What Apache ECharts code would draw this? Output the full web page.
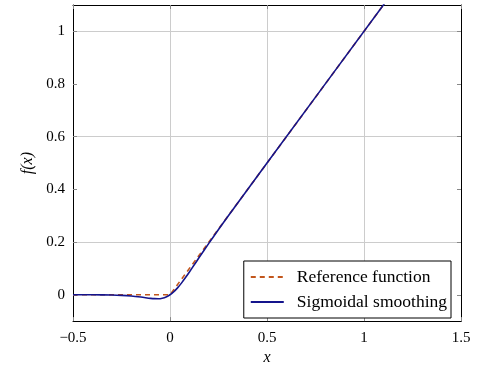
<!DOCTYPE html>
<html>
<head>
<meta charset="utf-8">
<script src="https://cdn.jsdelivr.net/npm/echarts@6/dist/echarts.min.js"></script>
<style>
  html, body { margin: 0; padding: 0; background: #fff; }
  #chart { width: 479px; height: 371px; }
</style>
</head>
<body>
<div id="chart"></div>
<script>
// values
const refX = [-0.5, 0, 1.15];
const refY = [0, 0, 1.15];

const smoothX = [-0.5, -0.4, -0.3, -0.25, -0.2, -0.15, -0.1, -0.08, -0.06, -0.04, -0.02, 0,
  0.02, 0.04, 0.06, 0.08, 0.1, 0.125, 0.15, 0.2, 0.25, 0.3, 0.4, 0.5, 1.15];
const smoothY = [0, -0.0002, -0.0012, -0.0024, -0.0048, -0.0088, -0.0136, -0.0148, -0.0149, -0.0129, -0.0082, 0,
  0.0118, 0.0271, 0.0451, 0.0652, 0.0864, 0.1137, 0.1412, 0.1952, 0.2476, 0.2988, 0.3998, 0.5, 1.15];

const xTicks = [-0.5, 0, 0.5, 1, 1.5];
const yTicks = [0, 0.2, 0.4, 0.6, 0.8, 1];

const FONT = "'Liberation Serif', 'DejaVu Serif', serif";
const GRID = "#cccccc";

const zip = (a, b) => a.map((v, i) => [v, b[i]]);
const fmt = (v) => String(+v.toFixed(2)).replace("-", "\u2212");

const chart = echarts.init(document.getElementById("chart"), null, { renderer: "canvas" });

const tickStyle = { show: true, inside: true, length: 4, lineStyle: { color: "#888" } };

chart.setOption({
  animation: false,
  backgroundColor: "#fff",
  grid: { left: 73, right: 18, top: 5, bottom: 44, containLabel: false },
  legend: {
    orient: "vertical",
    right: 28,
    bottom: 53,
    backgroundColor: "#fff",
    borderColor: "#000",
    borderWidth: 1,
    borderRadius: 0,
    padding: [7, 4, 7, 6],
    itemGap: 7,
    itemWidth: 33,
    itemHeight: 16,
    itemStyle: { opacity: 0 },
    textStyle: { fontFamily: FONT, fontSize: 17.5, color: "#000", padding: [0, 0, 0, 8] },
    data: ["Reference function", "Sigmoidal smoothing"]
  },
  xAxis: [
    {
      type: "value",
      min: -0.5,
      max: 1.5,
      interval: 0.5,
      name: "x",
      nameLocation: "middle",
      nameGap: 28,
      nameTextStyle: { fontFamily: FONT, fontSize: 16, fontStyle: "italic", color: "#000" },
      axisLine: { show: true, onZero: false, lineStyle: { color: "#000", width: 1 } },
      axisTick: tickStyle,
      axisLabel: { fontFamily: FONT, fontSize: 15, color: "#000", margin: 9, formatter: fmt },
      splitLine: { show: true, lineStyle: { color: GRID, width: 1 } }
    },
    {
      type: "value",
      position: "top",
      min: -0.5,
      max: 1.5,
      interval: 0.5,
      axisLine: { show: true, onZero: false, lineStyle: { color: "#000", width: 1 } },
      axisTick: tickStyle,
      axisLabel: { show: false },
      splitLine: { show: false }
    }
  ],
  yAxis: [
    {
      type: "value",
      min: -0.1,
      max: 1.1,
      interval: 0.1,
      name: "f(x)",
      nameLocation: "middle",
      nameGap: 37,
      nameRotate: 90,
      nameTextStyle: { fontFamily: FONT, fontSize: 16, fontStyle: "italic", color: "#000" },
      axisLine: { show: true, onZero: false, lineStyle: { color: "#000", width: 1 } },
      axisTick: Object.assign({ customValues: yTicks }, tickStyle),
      axisLabel: { fontFamily: FONT, fontSize: 15, color: "#000", margin: 8, customValues: yTicks, formatter: fmt },
      splitLine: { show: true, lineStyle: { color: ["rgba(0,0,0,0)", GRID], width: 1 } }
    },
    {
      type: "value",
      position: "right",
      min: -0.1,
      max: 1.1,
      interval: 0.1,
      axisLine: { show: true, onZero: false, lineStyle: { color: "#000", width: 1 } },
      axisTick: Object.assign({ customValues: yTicks }, tickStyle),
      axisLabel: { show: false },
      splitLine: { show: false }
    }
  ],
  series: [
    {
      name: "Reference function",
      type: "line",
      data: zip(refX, refY),
      showSymbol: false,
      symbol: "none",
      lineStyle: { color: "#c2561c", width: 1.6, type: [5, 4] },
      itemStyle: { color: "#c2561c" },
      z: 3
    },
    {
      name: "Sigmoidal smoothing",
      type: "line",
      data: zip(smoothX, smoothY),
      smooth: 0.3,
      showSymbol: false,
      symbol: "none",
      lineStyle: { color: "#14148c", width: 1.6 },
      itemStyle: { color: "#14148c" },
      z: 4
    }
  ]
});
</script>
</body>
</html>
